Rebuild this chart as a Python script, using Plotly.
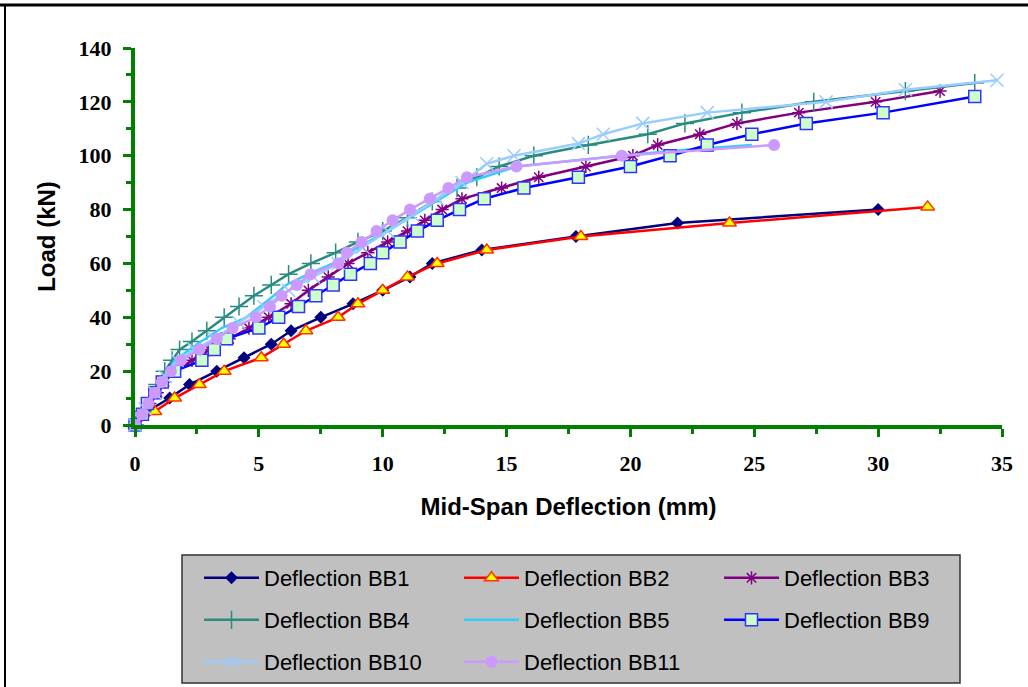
import plotly.graph_objects as go

# ---------------- data ----------------
bb1_x = [0, 0.5, 1.4, 2.2, 3.3, 4.4, 5.5, 6.3, 7.5, 8.8, 10.0, 11.1, 12.0, 14.0, 17.8, 21.9, 30.0]
bb1_y = [0, 5, 10, 15, 20, 25, 30, 35, 40, 45, 50, 55, 60, 65, 70, 75, 80]

bb2_x = [0, 0.8, 1.6, 2.6, 3.6, 5.1, 6.0, 6.9, 8.2, 9.0, 10.0, 11.0, 12.2, 14.2, 18.0, 24.0, 32.0]
bb2_y = [0, 5, 10, 15, 20, 25, 30, 35, 40, 45, 50, 55, 60, 65, 70, 75, 81]

bb3_x = [0, 0.3, 0.6, 0.9, 1.2, 1.6, 2.3, 3.0, 3.8, 4.6, 5.4, 6.3, 7.0, 7.8, 8.6, 9.4, 10.2, 11.0,
         11.7, 12.4, 13.2, 14.8, 16.3, 18.2, 20.1, 21.1, 22.8, 24.3, 26.8, 29.9, 32.5]
bb3_y = [0, 4, 8, 12, 16, 20, 24, 28, 32, 36, 40, 45, 50, 55, 60, 64, 68, 72,
         76, 80, 84, 88, 92, 96, 100, 104, 108, 112, 116, 120, 124]

bb4_x = [0, 0.3, 0.6, 0.9, 1.2, 1.5, 1.8, 2.3, 2.9, 3.6, 4.2, 4.8, 5.5, 6.2, 7.1, 8.1, 9.0, 10.0,
         11.0, 12.0, 13.0, 13.8, 14.7, 16.1, 18.3, 20.7, 22.2, 24.5, 27.4, 31.1, 33.9]
bb4_y = [0, 5, 10, 15, 20, 24, 28, 31, 35, 40, 44, 48, 52, 56, 60, 64, 68, 72,
         77, 83, 88, 92, 96, 100, 104, 108, 112, 116, 120, 124, 127]

bb5_x = [0, 0.5, 1.0, 1.6, 2.5, 3.5, 4.5, 5.6, 6.1, 7.0, 8.0, 9.0, 10.2, 11.6, 12.5, 13.4, 15.4,
         17.5, 19.6, 22.0, 24.9]
bb5_y = [0, 8, 16, 24, 30, 36, 40, 48, 52, 56, 60, 66, 72, 80, 85, 90, 96,
         98, 100, 102, 104]

bb9_x = [0, 0.3, 0.5, 0.8, 1.1, 1.6, 2.7, 3.2, 3.7, 5.0, 5.8, 6.6, 7.3, 8.0, 8.7, 9.5, 10.0, 10.7,
         11.4, 12.2, 13.1, 14.1, 15.7, 17.9, 20.0, 21.6, 23.1, 24.9, 27.1, 30.2, 33.9]
bb9_y = [0, 4, 8, 12, 16, 20, 24, 28, 32, 36, 40, 44, 48, 52, 56, 60, 64, 68,
         72, 76, 80, 84, 88, 92, 96, 100, 104, 108, 112, 116, 122]

bb10_x = [0, 0.4, 0.8, 1.2, 1.7, 2.4, 3.2, 4.2, 5.2, 6.2, 7.2, 8.2, 9.2, 10.2, 11.2, 12.2, 13.2,
          14.2, 15.3, 17.9, 18.9, 20.5, 23.1, 27.9, 31.1, 34.8]
bb10_y = [0, 6, 12, 18, 24, 28, 32, 38, 44, 50, 55, 60, 66, 72, 78, 84, 90,
          97, 100, 104.5, 108, 112, 116, 120, 124.5, 128]

bb11_x = [0, 0.27, 0.54, 0.8, 1.08, 1.45, 1.85, 2.6, 3.3, 3.94, 4.88, 5.45, 5.92, 6.53, 7.09, 8.21,
          8.55, 9.15, 9.75, 10.4, 11.1, 11.9, 12.65, 13.4, 15.4, 19.65, 25.8]
bb11_y = [0, 4, 8, 12, 16, 20, 24, 28, 32, 36, 40, 44, 48, 52, 56, 60,
          64, 68, 72, 76, 80, 84, 88, 92, 96, 100, 104]

names = ["Deflection BB1", "Deflection BB2", "Deflection BB3", "Deflection BB4",
         "Deflection BB5", "Deflection BB9", "Deflection BB10", "Deflection BB11"]

x_ticks = [0, 5, 10, 15, 20, 25, 30, 35]
y_ticks = [0, 20, 40, 60, 80, 100, 120, 140]

# ---------------- layout geometry (pixels) ----------------
W, H = 1028, 687
L, R, T, B = 135, 26, 48, 262
PW, PH = W - L - R, H - T - B


def px(xp):
    return (xp - L) / PW


def py(yp):
    return (H - B - yp) / PH


series = [
    (bb1_x, bb1_y, dict(color="#000080", width=2.5),
     dict(symbol="diamond", size=10, color="#000080")),
    (bb2_x, bb2_y, dict(color="#FF0000", width=2.5),
     dict(symbol="triangle-up", size=12, color="#FFFF00", line=dict(color="#FF3300", width=1.5))),
    (bb3_x, bb3_y, dict(color="#800080", width=2.5),
     dict(symbol="asterisk-open", size=11, color="#800080", line=dict(color="#800080", width=1.5))),
    (bb4_x, bb4_y, dict(color="#2A8C80", width=2.5),
     dict(symbol="cross-thin-open", size=13, color="#2A8C80", line=dict(color="#2A8C80", width=1.5))),
    (bb5_x, bb5_y, dict(color="#33CCFF", width=2.5), None),
    (bb9_x, bb9_y, dict(color="#0000FF", width=2.5),
     dict(symbol="square", size=12, color="#CCFFCC", line=dict(color="#3333FF", width=1.5))),
    (bb10_x, bb10_y, dict(color="#99CCFF", width=2.5),
     dict(symbol="x-thin-open", size=13, color="#99CCFF", line=dict(color="#99CCFF", width=1.5))),
    (bb11_x, bb11_y, dict(color="#CC99FF", width=2.5),
     dict(symbol="circle", size=12, color="#CC99FF")),
]

# legend slots: (column line start px, row centre px)
col_px = [205, 465, 725]
row_px = [578, 620, 662]
slots = [(c, r) for r in row_px for c in col_px][:8]

fig = go.Figure()
legend_layouts = {}
for i, ((xs, ys, ln, mk), name) in enumerate(zip(series, names)):
    lg = "legend" if i == 0 else f"legend{i + 1}"
    tr = dict(x=xs, y=ys, name=name, line=ln, cliponaxis=False, legend=lg, showlegend=True)
    if mk is None:
        tr["mode"] = "lines"
    else:
        tr["mode"] = "lines+markers"
        tr["marker"] = mk
    fig.add_trace(go.Scatter(**tr))
    cx, cy = slots[i]
    legend_layouts[lg] = dict(
        x=px(cx - 6), y=py(cy), xanchor="left", yanchor="middle",
        bgcolor="rgba(0,0,0,0)", borderwidth=0, itemwidth=55,
        font=dict(family="Liberation Sans, Arial, sans-serif", size=22, color="#000000"),
        orientation="h",
    )

tick_font = dict(family="Liberation Serif, Times New Roman, serif", size=22,
                 color="#000000", weight="bold")
title_font = dict(family="Liberation Sans, Arial, sans-serif", size=24,
                  color="#000000", weight="bold")

axis_common = dict(
    showline=True, linecolor="#008000", linewidth=4,
    ticks="outside", tickcolor="#008000", tickwidth=3, ticklen=8,
    showgrid=False, zeroline=False,
    tickfont=tick_font,
)

fig.update_layout(
    width=W, height=H,
    showlegend=True,
    margin=dict(l=L, r=R, t=T, b=B, autoexpand=False),
    paper_bgcolor="#FFFFFF", plot_bgcolor="#FFFFFF",
    xaxis=dict(
        range=[0, 35], tickmode="array", tickvals=x_ticks,
        ticktext=[str(v) for v in x_ticks],
        minor=dict(ticks="outside", dtick=2.5, tick0=0, ticklen=5, tickwidth=3, tickcolor="#008000"),
        title=dict(text="Mid-Span Deflection (mm)", standoff=24, font=title_font),
        ticklabelstandoff=8,
        **axis_common,
    ),
    yaxis=dict(
        range=[0, 140], tickmode="array", tickvals=y_ticks,
        ticktext=[str(v) for v in y_ticks],
        minor=dict(ticks="outside", dtick=10, tick0=0, ticklen=5, tickwidth=3, tickcolor="#008000"),
        title=dict(text="Load (kN)", standoff=17, font=title_font),
        ticklabelstandoff=7,
        **axis_common,
    ),
    shapes=[
        dict(type="rect", xref="paper", yref="paper", layer="below",
             x0=px(182), x1=px(960), y0=py(683), y1=py(555),
             fillcolor="#C0C0C0", line=dict(color="#333333", width=1.5)),
        dict(type="line", xref="paper", yref="paper",
             x0=px(0), x1=px(1028), y0=py(5), y1=py(5),
             line=dict(color="#000000", width=3)),
        dict(type="line", xref="paper", yref="paper",
             x0=px(5), x1=px(5), y0=py(5), y1=py(687),
             line=dict(color="#000000", width=2)),
    ],
    **legend_layouts,
)

fig.write_html("out.html", config={"displayModeBar": False},
               post_script="document.body.style.margin='0px';")
